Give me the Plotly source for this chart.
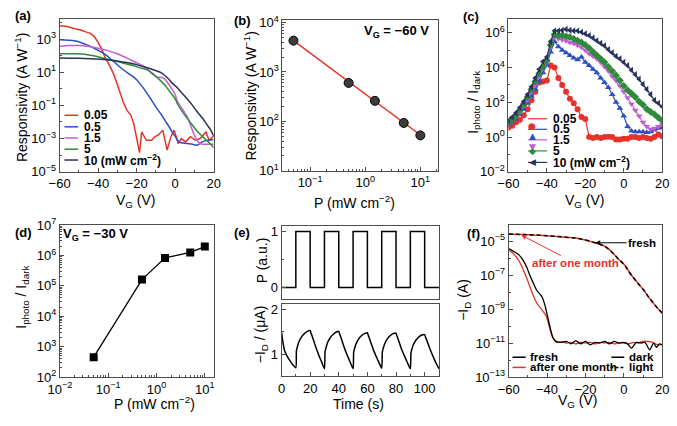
import plotly.graph_objects as go

W, H = 677, 426
FONT = "Liberation Sans, Arial, sans-serif"
AXC = "#4d4d4d"

RED = "#e5332a"
BLUE = "#2d4fc6"
MAG = "#c35ed3"
GREEN = "#2f8a3b"
NAVY = "#28305f"

# ---------------- data ----------------
# (a) responsivity vs VG
a_v_005 = [-60, -56, -52, -49, -46, -44, -42, -40, -38, -36, -34, -32, -30, -28.5, -27, -25, -23, -21.5,
           -20.2, -18.5, -17.4, -15, -12.3, -10.5, -8.9, -6.4, -4.2, -2.2, -0.5, 1.6, 3.2, 5.4, 8, 10.5,
           13, 16, 17.6, 20]
a_r_005 = [6.3e3, 5.6e3, 4.2e3, 3.5e3, 2.6e3, 2.2e3, 1.4e3, 6.3e2, 2.2e2, 63, 25, 7.9, 1.8, 0.45, 0.16,
           0.05, 0.025, 7.9e-3, 1.3e-3, 1.4e-4, 2.5e-3, 7.9e-4, 7.9e-4, 1.3e-3, 1.6e-3, 3.2e-3, 2.0e-4,
           1.3e-3, 3.2e-3, 5.0e-4, 1.0e-3, 6.3e-4, 1.3e-3, 7.9e-4, 1.0e-3, 2.5e-3, 7.9e-4, 1.4e-3]
a_v_05 = [-60, -55, -51, -47, -43, -39, -36, -33, -30, -27, -24, -22, -20, -17.4, -15, -12.3, -10, -7.2,
          -5, -3, -1, 0.5, 1.5, 3, 6, 9, 11.5, 14, 17, 20]
a_r_05 = [8.9e2, 8.5e2, 7.4e2, 5.0e2, 3.2e2, 1.8e2, 1.1e2, 56, 28, 14, 7.9, 5.6, 3.5, 1.5, 0.63, 0.21,
          0.079, 0.028, 0.011, 4.8e-3, 2.0e-3, 1.1e-3, 7.1e-4, 5.6e-4, 5.0e-4, 4.5e-4, 4.0e-4, 6.3e-4,
          7.9e-4, 8.9e-4]
a_v_15 = [-60, -55, -50, -45, -40, -35, -30, -25, -20.7, -17, -14, -11, -9.8, -7, -5.5, -3.5, -2, 0,
          1.1, 3, 4.5, 6.5, 8, 9.5, 11.3, 13, 15, 17, 20]
a_r_15 = [3.5e2, 4.0e2, 4.0e2, 3.5e2, 2.8e2, 2.0e2, 1.3e2, 71, 40, 25, 14, 7.1, 5.2, 4.8, 4.0, 2.0, 1.1,
          0.45, 0.18, 0.079, 0.045, 0.018, 6.3e-3, 2.2e-3, 7.9e-4, 5.0e-4, 4.5e-4, 4.5e-4, 4.5e-4]
a_v_5 = [-60, -52, -47, -43, -39, -35, -31, -27, -22.4, -17.4, -14, -12.3, -10, -7.2, -4.5, -2.2, 0,
         1.1, 3.5, 6.2, 9, 11.3, 14, 16.4, 18.5, 20]
a_r_5 = [1.3e2, 1.3e2, 1.2e2, 1.0e2, 79, 60, 47, 35, 26, 17, 13, 8.7, 5.6, 2.8, 1.26, 0.55, 0.25, 0.13,
         0.045, 0.017, 6.3e-3, 2.9e-3, 1.4e-3, 7.6e-4, 4.5e-4, 2.8e-4]
a_v_10 = [-60, -50, -42, -38.5, -32, -26.5, -22, -17.4, -14, -10.6, -7, -3.9, -1.5, 1.1, 3.5, 6.2, 9,
          11.3, 14, 16.4, 18.5, 20]
a_r_10 = [72, 69, 63, 60, 50, 40, 32, 23, 18, 13, 8.9, 4.5, 2.2, 1.17, 0.56, 0.25, 0.1, 0.043, 0.018,
          7.2e-3, 3.2e-3, 1.4e-3]
a_labels = ["0.05", "0.5", "1.5", "5", "10 (mW cm<sup>\u22122</sup>)"]

# (b) responsivity vs power at VG = -60 V
b_power = [0.05, 0.5, 1.5, 5, 10]
b_resp = [4300, 600, 260, 93, 52]
b_fit_power = [0.05, 10]
b_fit_resp = [4300, 53]

# (c) photo/dark ratio vs VG
c_vg = [-60, -58, -56, -54, -52, -50, -48, -46, -44, -42, -40, -38, -36, -34, -32, -30, -28, -26, -24,
        -22, -20, -18, -16, -14, -12, -10, -8, -6, -4, -2, 0, 2, 4, 6, 8, 10, 12, 14, 16, 18, 20]
c_005 = [3.5, 4.5, 7.1, 10, 18, 40, 1.3e2, 4.0e2, 1.4e3, 1.6e3, 1.8e3, 1.3e4, 1.0e4, 2.5e3, 1.0e3, 4.0e2,
         1.6e2, 89, 40, 14, 11, 1.0, 0.89, 1.0, 0.89, 1.0, 1.05, 1.0, 0.71, 0.71, 0.79, 0.79, 1.0, 1.0,
         0.89, 1.0, 0.89, 0.79, 1.0, 1.4, 1.1]
c_05 = [5.0, 7.1, 11, 20, 40, 89, 2.2e2, 5.6e2, 1.6e3, 5.0e3, 1.4e4, 7.9e4, 3.2e5, 1.6e5, 1.0e5, 7.1e4,
        5.0e4, 3.5e4, 2.8e4, 4.0e4, 2.0e4, 1.3e4, 7.9e3, 5.0e3, 2.5e3, 1.4e3, 7.1e2, 2.8e2, 1.0e2, 45, 16,
        4.0, 2.2, 2.0, 2.0, 2.0, 1.8, 2.0, 2.5, 3.2, 3.5]
c_15 = [6.3, 8.9, 16, 28, 63, 1.4e2, 4.0e2, 1.0e3, 3.2e3, 8.9e3, 2.0e4, 1.6e5, 5.6e5, 4.5e5, 4.0e5, 3.5e5,
        2.8e5, 2.4e5, 1.9e5, 1.5e5, 1.0e5, 6.3e4, 4.5e4, 3.2e4, 2.0e4, 1.1e4, 6.3e3, 3.2e3, 1.8e3, 8.9e2,
        4.0e2, 1.8e2, 79, 35, 16, 7.1, 4.0, 2.8, 3.2, 4.0, 5.0]
c_5 = [7.1, 10, 18, 35, 79, 2.0e2, 5.6e2, 1.6e3, 4.5e3, 1.1e4, 2.5e4, 2.0e5, 7.9e5, 7.1e5, 7.1e5, 6.3e5,
       5.6e5, 4.5e5, 3.5e5, 2.8e5, 2.0e5, 1.3e5, 7.9e4, 5.0e4, 3.2e4, 2.0e4, 1.1e4, 6.3e3, 3.5e3, 1.8e3,
       8.9e2, 5.0e2, 3.2e2, 2.0e2, 1.1e2, 71, 40, 28, 20, 13, 8.9]
c_10 = [8.9, 14, 25, 50, 1.1e2, 2.8e2, 7.9e2, 2.5e3, 7.9e3, 2.2e4, 4.0e4, 3.2e5, 1.3e6, 1.3e6, 1.4e6,
        1.6e6, 1.4e6, 1.3e6, 1.3e6, 1.1e6, 8.9e5, 7.1e5, 5.0e5, 3.5e5, 2.5e5, 1.8e5, 1.1e5, 7.1e4, 4.5e4,
        3.2e4, 2.0e4, 1.3e4, 7.1e3, 4.0e3, 2.2e3, 1.1e3, 5.6e2, 2.8e2, 1.3e2, 89, 56]

# (d) photo/dark ratio vs power at VG = -30 V
d_power = [0.05, 0.5, 1.5, 5, 10]
d_ratio = [450, 1.6e5, 8.3e5, 1.25e6, 1.95e6]

# (e) light modulation and current response
e_p_time = [0, 10, 10, 20, 20, 30, 30, 40, 40, 50, 50, 60, 60, 70, 70, 80, 80, 90, 90, 100, 100, 110]
e_p_val = [0, 0, 1, 1, 0, 0, 1, 1, 0, 0, 1, 1, 0, 0, 1, 1, 0, 0, 1, 1, 0, 0]
e_i_time = [0, 1, 2, 4, 6, 8, 10,
            10.4, 11, 12, 14, 16, 18, 20,
            20.5, 21, 22, 24, 26, 28, 30,
            30.4, 31, 32, 34, 36, 38, 40,
            40.5, 41, 42, 44, 46, 48, 50,
            50.4, 51, 52, 54, 56, 58, 60,
            60.5, 61, 62, 64, 66, 68, 70,
            70.4, 71, 72, 74, 76, 78, 80,
            80.5, 81, 82, 84, 86, 88, 90,
            90.4, 91, 92, 94, 96, 98, 100,
            100.5, 101, 102, 104, 106, 108, 110]
e_i_val = [1.50, 1.27, 1.10, 0.96, 0.86, 0.77, 0.71,
           1.08, 1.16, 1.27, 1.39, 1.46, 1.51, 1.53,
           1.48, 1.44, 1.35, 1.16, 0.99, 0.84, 0.69,
           1.06, 1.14, 1.25, 1.37, 1.44, 1.49, 1.51,
           1.46, 1.42, 1.33, 1.14, 0.98, 0.83, 0.69,
           1.05, 1.13, 1.23, 1.35, 1.42, 1.46, 1.48,
           1.43, 1.39, 1.30, 1.12, 0.97, 0.83, 0.70,
           1.05, 1.13, 1.23, 1.35, 1.42, 1.46, 1.47,
           1.42, 1.38, 1.29, 1.11, 0.96, 0.82, 0.69,
           1.03, 1.11, 1.21, 1.32, 1.39, 1.43, 1.44,
           1.39, 1.35, 1.27, 1.10, 0.95, 0.81, 0.69]

# (f) transfer curves, fresh vs after one month
f_dark_fresh_v = [-60, -57.5, -55.4, -53.5, -52, -50.5, -49.4, -47.2, -45.2, -43.5, -42.6, -40.9, -39.2,
                  -38, -36.7, -35, -32.5, -30, -27.5, -25, -22.5, -20, -17.5, -15, -12.5, -10, -7.5, -5,
                  -2.5, 0, 2, 4, 6.5, 9, 11, 13.5, 15.5, 17, 18.5, 20]
f_dark_fresh_i = [3.7e-6, 2.5e-6, 1.8e-6, 1.1e-6, 6.0e-7, 2.8e-7, 1.3e-7, 3.5e-8, 1.2e-8, 7.1e-9, 5.1e-9,
                  1.4e-9, 2.0e-10, 5.4e-11, 1.8e-11, 1.2e-11, 1.1e-11, 1.26e-11, 8.9e-12, 1.4e-11, 8.9e-12,
                  1.26e-11, 7.9e-12, 1.1e-11, 1.0e-11, 1.26e-11, 8.9e-12, 1.26e-11, 1.0e-11, 1.1e-11,
                  8.9e-12, 5.0e-12, 1.1e-11, 1.0e-11, 1.1e-11, 4.0e-12, 1.0e-11, 5.6e-12, 8.9e-12, 7.9e-12]
f_dark_aged_v = [-60, -57.5, -55.4, -53.5, -52, -50.5, -49.4, -47.2, -45.2, -42.6, -40.4, -39.2, -37.5,
                 -36.3, -35, -32.5, -30, -27.5, -25, -22.5, -20, -17.5, -15, -12.5, -10, -7.5, -5, -2.5, 0,
                 2.5, 5, 7.5, 10, 12.5, 15, 17.5, 20]
f_dark_aged_i = [3.0e-6, 1.8e-6, 9.3e-7, 4.0e-7, 1.6e-7, 6.3e-8, 2.9e-8, 6.3e-9, 2.1e-9, 8.9e-10, 3.8e-10,
                 1.3e-10, 2.8e-11, 1.6e-11, 1.1e-11, 1.2e-11, 1.0e-11, 1.1e-11, 8.9e-12, 1.1e-11, 1.0e-11,
                 1.1e-11, 8.9e-12, 1.1e-11, 1.0e-11, 1.1e-11, 8.9e-12, 1.0e-11, 1.0e-11, 8.9e-12, 1.1e-11,
                 1.0e-11, 1.26e-11, 1.26e-11, 1.1e-11, 7.9e-12, 7.9e-12]
f_light_v = [-60, -50, -40, -30, -23, -15, -10, -6.4, -3, 0.4, 3.8, 7.2, 10.6, 13, 15.6, 18, 20]
f_light_i = [2.6e-5, 2.4e-5, 2.1e-5, 1.7e-5, 1.4e-5, 8.1e-6, 5.0e-6, 2.4e-6, 9.3e-7, 3.9e-7, 1.05e-7,
             3.5e-8, 1.2e-8, 5.0e-9, 2.1e-9, 1.0e-9, 5.8e-10]


# ---------------- helpers ----------------
def px(x):
    return x / W


def py(y):
    return 1 - y / H


def dom_x(a, b):
    return [px(a), px(b)]


def dom_y(top, bottom):
    return [py(bottom), py(top)]


def sup(n):
    s = str(abs(n))
    return "10<sup>" + ("\u2212" if n < 0 else "") + s + "</sup>"


def axis(domain, anchor, **kw):
    d = dict(domain=domain, anchor=anchor, showline=True, mirror=True, linecolor=AXC, linewidth=1,
             ticks="inside", ticklen=4, tickcolor=AXC, tickwidth=1, showgrid=False, zeroline=False,
             tickfont=dict(size=13, color="black", family=FONT))
    d.update(kw)
    return d


def log_ticks(exps):
    return dict(tickmode="array", tickvals=[10.0 ** e for e in exps], ticktext=[sup(e) for e in exps])


def lin_minor(step):
    return dict(ticks="inside", ticklen=2, tickcolor=AXC, dtick=step)


def log_minor(d):
    return dict(ticks="inside", ticklen=2, tickcolor=AXC, dtick=d)


def minus(vals):
    return [(("\u2212" + str(abs(v))) if v < 0 else str(v)) for v in vals]


fig = go.Figure()

# ---------------- (a) ----------------
a_series = [(a_v_005, a_r_005, RED, "linear"), (a_v_05, a_r_05, BLUE, "spline"),
            (a_v_15, a_r_15, MAG, "spline"), (a_v_5, a_r_5, GREEN, "spline"),
            (a_v_10, a_r_10, NAVY, "spline")]
for v, r, c, shp in a_series:
    fig.add_trace(go.Scatter(x=v, y=r, mode="lines", line=dict(color=c, width=1.5, shape=shp),
                             xaxis="x", yaxis="y", showlegend=False))

# ---------------- (b) ----------------
fig.add_trace(go.Scatter(x=b_fit_power, y=b_fit_resp, mode="lines", line=dict(color=RED, width=1.5),
                         xaxis="x2", yaxis="y2", showlegend=False))
fig.add_trace(go.Scatter(x=b_power, y=b_resp, mode="markers",
                         marker=dict(symbol="circle", size=9, color="#3c3c3c", line=dict(color="black", width=1)),
                         xaxis="x2", yaxis="y2", showlegend=False))

# ---------------- (c) ----------------
c_series = [(c_005, RED, "circle"), (c_05, BLUE, "triangle-up"), (c_15, MAG, "triangle-down"),
            (c_5, GREEN, "diamond"), (c_10, NAVY, "triangle-left")]
for vals, c, sym in c_series:
    fig.add_trace(go.Scatter(x=c_vg, y=vals, mode="lines+markers", line=dict(color=c, width=1.2),
                             marker=dict(symbol=sym, size=6, color=c),
                             xaxis="x3", yaxis="y3", showlegend=False))

# ---------------- (d) ----------------
fig.add_trace(go.Scatter(x=d_power, y=d_ratio, mode="lines+markers", line=dict(color="black", width=1.3),
                         marker=dict(symbol="square", size=8, color="black"),
                         xaxis="x4", yaxis="y4", showlegend=False))

# ---------------- (e) ----------------
fig.add_trace(go.Scatter(x=e_p_time, y=e_p_val, mode="lines", line=dict(color="black", width=1.5),
                         xaxis="x5", yaxis="y5", showlegend=False))
fig.add_trace(go.Scatter(x=e_i_time, y=e_i_val, mode="lines", line=dict(color="black", width=1.5, shape="spline", smoothing=0.6),
                         xaxis="x6", yaxis="y6", showlegend=False))

# ---------------- (f) ----------------
fig.add_trace(go.Scatter(x=f_light_v, y=f_light_i, mode="lines", line=dict(color=RED, width=1.5, shape="spline"),
                         xaxis="x7", yaxis="y7", showlegend=False))
fig.add_trace(go.Scatter(x=f_light_v, y=f_light_i, mode="lines",
                         line=dict(color="black", width=1.5, dash="4px,3px", shape="spline"),
                         xaxis="x7", yaxis="y7", showlegend=False))
fig.add_trace(go.Scatter(x=f_dark_aged_v, y=f_dark_aged_i, mode="lines", line=dict(color=RED, width=1.3, shape="spline", smoothing=0.7),
                         xaxis="x7", yaxis="y7", showlegend=False))
fig.add_trace(go.Scatter(x=f_dark_fresh_v, y=f_dark_fresh_i, mode="lines", line=dict(color="black", width=1.3, shape="spline", smoothing=0.7),
                         xaxis="x7", yaxis="y7", showlegend=False))

# ---------------- axes ----------------
vg_ticks = [-60, -40, -20, 0, 20]
layout_axes = dict(
    xaxis=axis(dom_x(49, 207.5), "y", range=[-60, 20], tickmode="array", tickvals=vg_ticks,
               ticktext=minus(vg_ticks), minor=lin_minor(10)),
    yaxis=axis(dom_y(10, 169.5), "x", type="log", range=[-5, 4.23], **log_ticks([-5, -3, -1, 1, 3]),
               minor=log_minor(1)),
    xaxis2=axis(dom_x(278.3, 438.3), "y2", type="log", range=[-1.5, 1.32], **log_ticks([-1, 0, 1]),
                minor=log_minor("D1")),
    yaxis2=axis(dom_y(11, 168.5), "x2", type="log", range=[1, 4.06], **log_ticks([1, 2, 3, 4]),
                minor=log_minor("D1")),
    xaxis3=axis(dom_x(510.7, 669), "y3", range=[-60, 20], tickmode="array", tickvals=vg_ticks,
                ticktext=minus(vg_ticks), minor=lin_minor(10)),
    yaxis3=axis(dom_y(10, 169.5), "x3", type="log", range=[-2, 6.82], **log_ticks([-2, 0, 2, 4, 6]),
                minor=log_minor(1)),
    xaxis4=axis(dom_x(49.3, 208.3), "y4", type="log", range=[-2, 1.2], **log_ticks([-2, -1, 0, 1]),
                minor=log_minor("D1")),
    yaxis4=axis(dom_y(225, 383.3), "x4", type="log", range=[2, 7], **log_ticks([2, 3, 4, 5, 6, 7]),
                minor=log_minor("D1")),
    xaxis5=axis(dom_x(277.3, 439.3), "y5", range=[0, 110], showticklabels=False, ticks=""),
    yaxis5=axis(dom_y(226, 302.3), "x5", range=[-0.21, 1.1], tickmode="array", tickvals=[0, 1],
                minor=lin_minor(0.5)),
    xaxis6=axis(dom_x(277.3, 439.3), "y6", range=[0, 110], tickmode="array",
                tickvals=[0, 20, 40, 60, 80, 100], minor=lin_minor(10)),
    yaxis6=axis(dom_y(307.3, 382.7), "x6", range=[0.52, 2.11], tickmode="array", tickvals=[1, 2],
                minor=lin_minor(0.5)),
    xaxis7=axis(dom_x(511, 669), "y7", range=[-60, 20], tickmode="array", tickvals=vg_ticks,
                ticktext=minus(vg_ticks), minor=lin_minor(10)),
    yaxis7=axis(dom_y(225, 383.3), "x7", type="log", range=[-13, -4.05], **log_ticks([-13, -11, -9, -7, -5]),
                minor=log_minor(1)),
)

annotations = []
shapes = []


def text(x, y, t, size=13, bold=False, angle=0, color="black", xanchor="center"):
    annotations.append(dict(x=px(x), y=py(y), xref="paper", yref="paper", text=("<b>%s</b>" % t) if bold else t,
                            showarrow=False, textangle=angle, xanchor=xanchor, yanchor="middle",
                            font=dict(size=size, color=color, family=FONT)))


def seg(x0, x1, y, color, dash="solid", width=1.5):
    shapes.append(dict(type="line", xref="paper", yref="paper", x0=px(x0), x1=px(x1), y0=py(y), y1=py(y),
                       line=dict(color=color, width=width, dash=dash)))


# panel labels
for lab, x, y in [("(a)", 11, 7), ("(b)", 237, 12), ("(c)", 472, 8), ("(d)", 12, 233), ("(e)", 237, 233),
                  ("(f)", 475, 234)]:
    text(x, y, lab, size=13, bold=True)

# axis titles
text(10, 92, "Responsivity (A W<sup>\u22121</sup>)", size=14, angle=-90)
text(128, 200, "V<sub>G</sub> (V)", size=14)
text(245, 91, "Responsivity (A W<sup>\u22121</sup>)", size=14, angle=-90)
text(352, 201, "P (mW cm<sup>\u22122</sup>)", size=14)
text(475, 97, "I<sub>photo</sub> / I<sub>dark</sub>", size=14, angle=-90)
text(590, 200, "V<sub>G</sub> (V)", size=14)
text(10, 300, "I<sub>photo</sub> / I<sub>dark</sub>", size=14, angle=-90)
text(147, 410, "P (mW cm<sup>\u22122</sup>)", size=14)
text(257, 262, "P (a.u.)", size=14, angle=-90)
text(257, 339, "\u2212I<sub>D</sub> / (\u03bcA)", size=14, angle=-90)
text(357, 411, "Time (s)", size=14)
text(465, 303, "\u2212I<sub>D</sub> (A)", size=14, angle=-90)
text(582, 408, "V<sub>G</sub> (V)", size=14)

# in-panel notes
text(396, 23, "V<sub>G</sub> = \u221260 V", size=13, bold=True)
text(86, 235, "V<sub>G</sub> = \u221230 V", size=13, bold=True)

# legend (a)
a_colors = [RED, BLUE, MAG, GREEN, NAVY]
for i, yy in enumerate([110.7, 122.7, 134.3, 146, 157.3]):
    seg(54, 68, yy, a_colors[i])
    text(72, yy, a_labels[i], size=12, bold=True, xanchor="left")

# legend (c)
c_syms = ["\u25cf", "\u25b2", "\u25bc", "\u25c6", "\u25c0"]
for i, yy in enumerate([114.3, 125.3, 136.3, 147.8, 159.8]):
    seg(531, 550.5, yy, a_colors[i], width=1.2)
    annotations.append(dict(x=px(540.8), y=py(yy), xref="paper", yref="paper", text=c_syms[i], showarrow=False,
                            font=dict(size=9, color=a_colors[i], family="DejaVu Sans")))
    text(555, yy, a_labels[i], size=12, bold=True, xanchor="left")

# legend (f)
seg(515, 528.5, 362.7, "black")
text(530.5, 362.7, "fresh", size=11.5, bold=True, xanchor="left")
seg(515, 528.5, 373.3, RED)
text(530.5, 373.3, "after one month", size=11.5, bold=True, xanchor="left")
seg(616.7, 630, 362.7, "black")
text(632.5, 362.7, "dark", size=11.5, bold=True, xanchor="left")
seg(615.7, 630, 373.3, "black", dash="3px,2px")
text(632.5, 373.3, "light", size=11.5, bold=True, xanchor="left")

# arrows (f)
annotations.append(dict(x=px(600), y=py(243.5), xref="paper", yref="paper", text="<b>fresh</b>",
                        showarrow=True, ax=47, ay=0, arrowhead=2, arrowsize=1, arrowwidth=1,
                        arrowcolor="black", font=dict(size=11.5, color="black", family=FONT)))
annotations.append(dict(x=px(524), y=py(235.5), xref="paper", yref="paper", text="<b>after one month</b>",
                        showarrow=True, ax=54, ay=28, arrowhead=2, arrowsize=1, arrowwidth=1,
                        arrowcolor=RED, font=dict(size=11.5, color=RED, family=FONT)))

fig.update_layout(
    width=W, height=H, margin=dict(l=0, r=0, t=0, b=0),
    paper_bgcolor="white", plot_bgcolor="white",
    font=dict(family=FONT, color="black"),
    showlegend=False, hovermode=False,
    annotations=annotations, shapes=shapes,
    **layout_axes,
)

fig.write_html("out.html", config={"displayModeBar": False, "staticPlot": True},
               post_script="document.body.style.margin='0px';")
